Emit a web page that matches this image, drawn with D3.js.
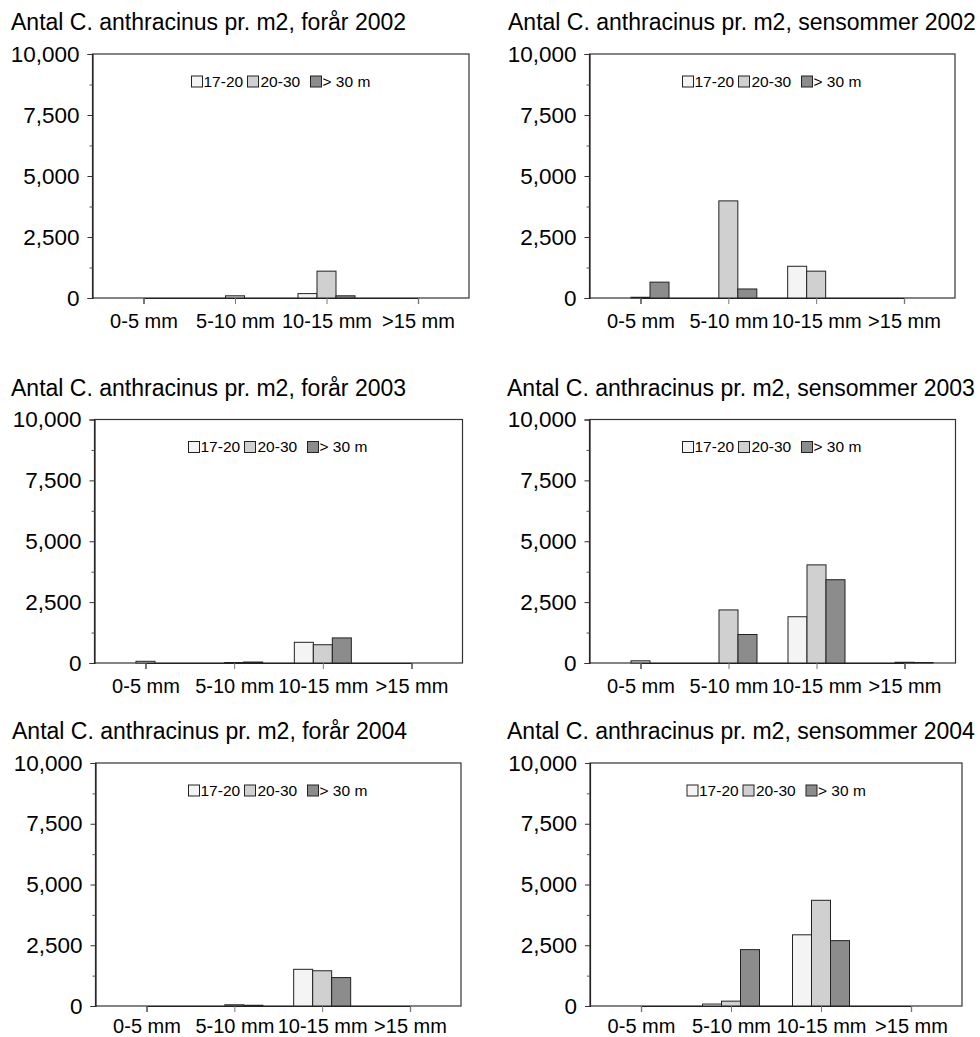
<!DOCTYPE html>
<html><head><meta charset="utf-8">
<script src="https://cdn.jsdelivr.net/npm/d3@7"></script>
<style>body{margin:0;background:#fff}svg{display:block}</style>
</head><body><svg id="c" width="980" height="1037"></svg>
<script>
// ---- data ----
const categories = ["0-5 mm", "5-10 mm", "10-15 mm", ">15 mm"];
const seriesNames = ["17-20", "20-30", "> 30 m"];
const yTicks = [0, 2500, 5000, 7500, 10000];
const yMinorTicks = [1250, 3750, 6250, 8750];
const titles = [
  "Antal C. anthracinus pr. m2, forår 2002",
  "Antal C. anthracinus pr. m2, sensommer 2002",
  "Antal C. anthracinus pr. m2, forår 2003",
  "Antal C. anthracinus pr. m2, sensommer 2003",
  "Antal C. anthracinus pr. m2, forår 2004",
  "Antal C. anthracinus pr. m2, sensommer 2004"
];
const forar2002_1720 = [0, 0, 180, 0];
const forar2002_2030 = [0, 90, 1100, 0];
const forar2002_30 = [0, 0, 90, 0];
const sensommer2002_1720 = [0, 0, 1300, 0];
const sensommer2002_2030 = [30, 3980, 1100, 0];
const sensommer2002_30 = [650, 370, 0, 0];
const forar2003_1720 = [0, 0, 850, 0];
const forar2003_2030 = [70, 20, 750, 0];
const forar2003_30 = [0, 40, 1030, 0];
const sensommer2003_1720 = [0, 0, 1900, 0];
const sensommer2003_2030 = [90, 2180, 4030, 30];
const sensommer2003_30 = [0, 1170, 3420, 20];
const forar2004_1720 = [0, 0, 1510, 0];
const forar2004_2030 = [0, 50, 1450, 0];
const forar2004_30 = [0, 30, 1170, 0];
const sensommer2004_1720 = [0, 80, 2930, 0];
const sensommer2004_2030 = [0, 200, 4350, 0];
const sensommer2004_30 = [0, 2320, 2690, 0];

const panelData = [
  [forar2002_1720, forar2002_2030, forar2002_30],
  [sensommer2002_1720, sensommer2002_2030, sensommer2002_30],
  [forar2003_1720, forar2003_2030, forar2003_30],
  [sensommer2003_1720, sensommer2003_2030, sensommer2003_30],
  [forar2004_1720, forar2004_2030, forar2004_30],
  [sensommer2004_1720, sensommer2004_2030, sensommer2004_30]
];

// ---- layout ----
const frames = [
  {L: 92.5, R: 469, T: 54, B: 298, tx: 11, ty: 30, lg: 99, xp: 10},
  {L: 589.5, R: 955, T: 54, B: 298, tx: 508, ty: 30, lg: 93, xp: 10},
  {L: 94.5, R: 462.5, T: 419.5, B: 663, tx: 11, ty: 396, lg: 94, xp: 10},
  {L: 589.5, R: 955.5, T: 419.5, B: 663, tx: 507, ty: 396, lg: 93, xp: 10},
  {L: 95.5, R: 461, T: 763, B: 1006, tx: 12, ty: 739, lg: 93, xp: 7},
  {L: 590, R: 962, T: 763, B: 1006, tx: 507, ty: 739, lg: 97, xp: 7}
];
const colors = ["#f4f4f4", "#d0d0d0", "#8c8c8c"];
const FONT = "'Liberation Sans', Arial, sans-serif";

const svg = d3.select("#c");

frames.forEach((f, i) => {
  const g = svg.append("g");
  const y = d3.scaleLinear().domain([0, 10000]).range([f.B, f.T]);
  const x = d3.scalePoint().domain(categories).range([f.L + 51, f.R - 51]);
  const xs = d3.scaleBand().domain(seriesNames).range([-28.5, 28.5]);

  // title
  g.append("text").attr("x", f.tx).attr("y", f.ty)
    .attr("font-family", FONT).attr("font-size", 23).attr("fill", "#000")
    .text(titles[i]);

  // frame
  g.append("rect").attr("x", f.L).attr("y", f.T)
    .attr("width", f.R - f.L).attr("height", f.B - f.T)
    .attr("fill", "none").attr("stroke", "#333").attr("stroke-width", 1.2);

  // bars
  const data = panelData[i];
  data.forEach((vals, s) => {
    g.selectAll(null).data(vals.map((v, k) => ({v, c: categories[k]})).filter(d => d.v > 0))
      .enter().append("rect")
      .attr("x", d => x(d.c) + xs(seriesNames[s]))
      .attr("y", d => y(d.v))
      .attr("width", xs.bandwidth())
      .attr("height", d => f.B - y(d.v))
      .attr("fill", colors[s])
      .attr("stroke", "#222").attr("stroke-width", 1);
  });

  // y axis major
  const ya = g.append("g").attr("transform", `translate(${f.L},0)`)
    .call(d3.axisLeft(y).tickValues(yTicks).tickSize(5).tickPadding(8).tickFormat(d3.format(",")));
  ya.select(".domain").attr("stroke", "#222").attr("stroke-width", 1.2);
  ya.selectAll(".tick line").attr("stroke", "#333");
  ya.selectAll("text").attr("font-family", FONT).attr("font-size", 22.5).attr("fill", "#000");
  // y axis minor
  const ym = g.append("g").attr("transform", `translate(${f.L},0)`)
    .call(d3.axisLeft(y).tickValues(yMinorTicks).tickSize(3).tickFormat(""));
  ym.select(".domain").remove();
  ym.selectAll(".tick line").attr("stroke", "#555");

  // x axis
  const xa = g.append("g").attr("transform", `translate(0,${f.B})`)
    .call(d3.axisBottom(x).tickSize(6).tickPadding(f.xp));
  xa.select(".domain").attr("stroke", "#222").attr("stroke-width", 1.2);
  xa.selectAll(".tick line").attr("stroke", "#777");
  xa.selectAll("text").attr("font-family", FONT).attr("font-size", 20).attr("fill", "#000");

  // legend
  const lx = f.L + f.lg, ly = f.T + 22;
  const offs = [[0, 12], [56, 69], [119, 131]];
  seriesNames.forEach((n, s) => {
    g.append("rect").attr("x", lx + offs[s][0]).attr("y", ly)
      .attr("width", 11).attr("height", 11)
      .attr("fill", colors[s]).attr("stroke", "#222").attr("stroke-width", 1);
    g.append("text").attr("x", lx + offs[s][1]).attr("y", ly + 10.5)
      .attr("font-family", FONT).attr("font-size", 15.5).attr("fill", "#000")
      .text(n);
  });
});
</script>
</body></html>
